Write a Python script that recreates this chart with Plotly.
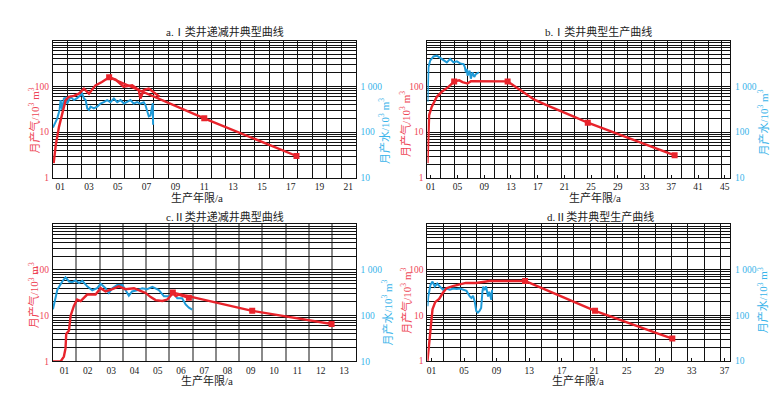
import plotly.graph_objects as go

# ---------------- data ----------------
# panel a
a_gas_x = [0.05, 0.2, 0.42, 0.64, 0.88, 1.1, 1.45, 1.8, 2.15, 2.5, 2.95, 3.4, 3.9, 4.35, 4.9, 5.5, 5.95, 6.07, 6.3, 6.65, 7.1, 7.4]
a_gas_y = [2.1, 5.3, 13, 26, 50, 59, 62, 69, 89, 69, 105, 124, 158, 140, 98, 105, 83, 54, 83, 89, 69, 59]
a_fit_x = [3.9, 10.5, 16.9]
a_fit_y = [158, 20, 3]
a_wat_x = [0, 0.3, 0.46, 0.53, 0.64, 0.76, 0.88, 0.99, 1.22, 1.46, 1.7, 1.92, 2.03, 2.15, 2.27, 2.38, 2.5, 2.61, 2.84, 3.07,
           3.3, 3.53, 3.76, 3.99, 4.23, 4.46, 4.69, 4.92, 5.15, 5.38, 5.6, 5.84, 6.07, 6.3, 6.42, 6.65, 6.77, 6.88, 6.93, 6.95]
a_wat_y = [125, 200, 305, 500, 305, 540, 560, 420, 590, 500, 560, 640, 690, 540, 500, 330, 305, 360, 330, 360,
           420, 450, 500, 450, 540, 450, 500, 420, 450, 500, 420, 450, 420, 450, 390, 220, 230, 360, 430, 145]
a_xlabels = ["01", "03", "05", "07", "09", "11", "13", "15", "17", "19", "21"]

# panel b
b_gas_x = [0, 0.1, 0.25, 0.65, 1.4, 2.15, 3.15, 4.0, 4.75, 5.25, 6.0, 6.5, 8, 10, 12, 13, 14, 15, 16, 18, 20, 22, 24, 26, 28, 30, 32, 34, 37]
b_gas_y = [2.1, 9, 23.6, 36, 59, 76, 97, 128, 135, 124, 115, 129, 129, 129, 128, 102, 81, 64, 51, 38, 29, 21.5, 16, 12.4, 9.6, 7.5, 5.8, 4.5, 3.1]
b_mk_x = [4.0, 12, 24, 37]
b_mk_y = [128, 128, 16, 3.1]
b_wat_x = [0, 0.05, 0.15, 0.4, 0.9, 1.4, 1.9, 2.4, 2.9, 3.4, 3.9, 4.4, 4.9, 5.4, 5.6, 5.75, 5.9, 6.0, 6.3, 6.5, 6.75, 7.0, 7.25, 7.7]
b_wat_y = [460, 1500, 2600, 3640, 4500, 4680, 4170, 3640, 3340, 3990, 3340, 3520, 3170, 3050, 2620, 2030, 2400, 1720, 2200, 1470, 2030, 1600, 1850, 2030]
b_xlabels = ["01", "05", "09", "13", "17", "21", "25", "29", "33", "37", "41", "45"]

# panel c
c_gas_x = [0, 0.33, 0.47, 0.54, 0.57, 0.69, 0.76, 0.9, 1.04, 1.19, 1.47, 1.83, 2.05, 2.26, 2.55, 2.83, 3.12, 3.48, 3.76,
           3.98, 4.2, 4.41, 4.7, 4.91, 5.05, 5.15, 5.27, 5.41, 5.6, 5.84]
c_gas_y = [1, 1, 1.28, 1.93, 4.0, 4.76, 10, 16.4, 22.6, 21, 29, 29, 40, 34, 38, 44, 38, 40, 35,
           31.5, 25.5, 22, 21, 22.6, 27, 32, 27, 29, 27, 24.6]
c_fit_x = [5.15, 8.56, 11.97]
c_fit_y = [32, 12.8, 6.6]
c_mk_x = [5.15, 5.84, 8.56, 11.97]
c_mk_y = [32, 24.6, 12.8, 6.6]
c_wat_x = [0, 0.11, 0.19, 0.4, 0.54, 0.69, 0.83, 0.97, 1.12, 1.26, 1.47, 1.69, 1.9, 2.05, 2.26, 2.4, 2.55, 2.76, 2.98, 3.12,
           3.26, 3.4, 3.62, 3.84, 4.05, 4.27, 4.55, 4.77, 4.98, 5.2, 5.34, 5.55, 5.7, 5.84, 5.98]
c_wat_y = [139, 227, 370, 560, 690, 560, 540, 590, 520, 580, 440, 360, 400, 500, 400, 315, 400, 470, 470, 360,
           275, 340, 360, 400, 380, 430, 365, 265, 265, 310, 240, 240, 177, 150, 136]
c_xlabels = ["01", "02", "03", "04", "05", "06", "07", "08", "09", "10", "11", "12", "13"]

# panel d
d_gas_x = [0, 0.2, 0.42, 0.62, 0.95, 1.44, 1.9, 2.34, 3.12, 3.74, 4.4, 4.72, 6.0, 7.05, 7.6, 9, 10.5, 12, 14, 16, 18, 20.6, 23, 25.5, 28, 30.1]
d_gas_y = [1, 2.6, 7.2, 13.6, 19.5, 23, 31.4, 39.5, 43.7, 47, 51, 51.5, 51.5, 55, 57, 57, 57, 57, 40, 28, 20, 12.6, 8.8, 6.0, 4.2, 3.1]
d_mk_x = [12, 20.6, 30.1]
d_mk_y = [57, 12.6, 3.1]
d_wat_x = [0, 0.1, 0.37, 0.62, 0.9, 1.2, 1.52, 1.93, 2.3, 2.75, 3.16, 3.6, 4.0, 4.4, 4.8, 5.2, 5.4, 5.6, 5.8, 6.0, 6.2, 6.4,
           6.6, 6.76, 6.85, 7.0, 7.2, 7.45, 7.6, 7.85, 7.95]
d_wat_y = [159, 260, 467, 550, 430, 500, 430, 365, 390, 365, 390, 380, 390, 365, 345, 260, 240, 270, 205, 125, 115, 125,
           145, 335, 430, 360, 430, 260, 330, 220, 365]
d_xlabels = ["01", "05", "09", "13", "17", "21", "25", "29", "33", "37"]

gas_ticks = [1, 10, 100]
gas_ticktext = ["1", "10", "100"]
wat_ticks = [10, 100, 1000]
wat_ticktext = ["10", "100", "1 000"]

titles = ["a.Ⅰ类井递减井典型曲线", "b.Ⅰ类井典型生产曲线", "c.Ⅱ类井递减井典型曲线", "d.Ⅱ类井典型生产曲线"]
xtitle = "生产年限/a"
gas_title = "月产气/10<sup>3</sup> m<sup>3</sup>"
wat_title = "月产水/10<sup>3</sup> m<sup>3</sup>"

# ---------------- style ----------------
W, H = 782, 396
RED = "#e8232b"
BLUE = "#1e9ad8"
RED_T = "#ee4656"
BLUE_T = "#3ab4ea"
SERIF = "Liberation Serif, Noto Sans CJK SC"

def px(x):
    return x / W

def py(y):
    return 1 - y / H

# panel boxes in pixels: (left, right, top, bottom)
boxes = [(44, 347, 33, 172), (419, 722, 33, 172), (44, 347, 219, 358), (419, 722, 219, 357.5)]
xranges = [[0, 21], [0, 45.3], [0, 13], [0, 37.2]]
xgrid_dtick = [1, 2, 1, 2]
xgrid_color = ["#111111", "#111111", "#8a8a8a", "#111111"]
xgrid_width = [1.2, 1.2, 2.4, 1.2]
xlabels_all = [a_xlabels, b_xlabels, c_xlabels, d_xlabels]
inside_ticks = [False, True, False, True]

minor_vals = [m * 10 ** k for k in range(3) for m in range(2, 10)]

fig = go.Figure()
layout = dict(
    width=W, height=H, autosize=False,
    margin=dict(l=0, r=0, t=0, b=0),
    paper_bgcolor="white", plot_bgcolor="white",
    showlegend=False,
    font=dict(family=SERIF, size=9, color="#222"),
)

for i in range(4):
    L, R, T, B = boxes[i]
    xa = "xaxis" if i == 0 else f"xaxis{i+1}"
    xr = "x" if i == 0 else f"x{i+1}"
    wn = 2 * i + 1  # water axis (base, right)
    gn = 2 * i + 2  # gas axis (overlay, left)
    wa = "yaxis" if wn == 1 else f"yaxis{wn}"
    wr = "y" if wn == 1 else f"y{wn}"
    ga = f"yaxis{gn}"
    labs = xlabels_all[i]
    layout[xa] = dict(
        domain=[px(L), px(R)], anchor=wr, range=xranges[i],
        tickmode="array", tickvals=[int(s) - 0.5 for s in labs], ticktext=labs, tickangle=0,
        ticks="inside" if inside_ticks[i] else "", ticklen=3, tickcolor="#111",
        showgrid=False, zeroline=False,
        showline=True, mirror=True, linecolor="#111", linewidth=1.3,
        tickfont=dict(family=SERIF, size=9.5, color="#222"),
        minor=dict(tickmode="linear", tick0=0, dtick=xgrid_dtick[i], showgrid=True,
                   gridcolor=xgrid_color[i], gridwidth=xgrid_width[i], ticks=""),
    )
    layout[wa] = dict(
        domain=[py(B), py(T)], anchor=xr, type="log", range=[1, 4], side="right",
        tickmode="array", tickvals=wat_ticks, ticktext=wat_ticktext, tickangle=0,
        showgrid=False, zeroline=False, ticks="", showline=False,
        ticklabelstandoff=4,
        tickfont=dict(family=SERIF, size=9.5, color=BLUE_T),
    )
    layout[ga] = dict(
        domain=[py(B), py(T)], anchor=xr, overlaying=wr, type="log", range=[0, 3], side="left",
        tickmode="array", tickvals=gas_ticks, ticktext=gas_ticktext, tickangle=0,
        showgrid=True, gridcolor="#111", gridwidth=1,
        zeroline=False, ticks="",
        showline=True, mirror=True, linecolor="#111", linewidth=1.3,
        tickfont=dict(family=SERIF, size=9.5, color=RED_T),
        ticklabelstandoff=1,
        minor=dict(tickmode="array", tickvals=minor_vals, showgrid=True, gridcolor="#111", gridwidth=1, ticks=""),
    )

fig.update_layout(**layout)

def add_panel(i, gas_x, gas_y, wat_x, wat_y, fit_x=None, fit_y=None, mk_x=None, mk_y=None):
    xr = "x" if i == 0 else f"x{i+1}"
    wr = "y" if i == 0 else f"y{2*i+1}"
    gr = f"y{2*i+2}"
    fig.add_trace(go.Scatter(x=wat_x, y=wat_y, mode="lines", line=dict(color=BLUE, width=2),
                             xaxis=xr, yaxis=wr, hoverinfo="skip"))
    fig.add_trace(go.Scatter(x=gas_x, y=gas_y, mode="lines", line=dict(color=RED, width=2.4),
                             xaxis=xr, yaxis=gr, hoverinfo="skip"))
    if fit_x is not None:
        fig.add_trace(go.Scatter(x=fit_x, y=fit_y, mode="lines", line=dict(color=RED, width=2.4),
                                 xaxis=xr, yaxis=gr, hoverinfo="skip"))
    if mk_x is not None:
        fig.add_trace(go.Scatter(x=mk_x, y=mk_y, mode="markers",
                                 marker=dict(color=RED, symbol="square", size=6),
                                 xaxis=xr, yaxis=gr, hoverinfo="skip"))

add_panel(0, a_gas_x, a_gas_y, a_wat_x, a_wat_y, a_fit_x, a_fit_y, a_fit_x, a_fit_y)
add_panel(1, b_gas_x, b_gas_y, b_wat_x, b_wat_y, None, None, b_mk_x, b_mk_y)
add_panel(2, c_gas_x, c_gas_y, c_wat_x, c_wat_y, c_fit_x, c_fit_y, c_mk_x, c_mk_y)
add_panel(3, d_gas_x, d_gas_y, d_wat_x, d_wat_y, None, None, d_mk_x, d_mk_y)

# text positions (pixels)
title_pos = [(216, 24), (590, 24), (216, 211), (592, 211)]
xtitle_pos = [(188, 192), (587, 192), (198, 377), (570, 377)]
gas_title_pos = [(25, 114), (396, 117), (25, 291), (398, 296)]
wat_title_pos = [(376, 125), (755, 116), (379, 309), (755, 296)]

anns = []
def ann(text, pos, color, angle=0):
    x, y = pos
    return dict(text=text, x=px(x), y=py(y), xref="paper", yref="paper", showarrow=False,
                xanchor="center", yanchor="middle", textangle=angle,
                font=dict(family=SERIF, size=11, color=color))

for i in range(4):
    anns.append(ann(titles[i], title_pos[i], "#222"))
    anns.append(ann(xtitle, xtitle_pos[i], "#222"))
    anns.append(ann(gas_title, gas_title_pos[i], RED_T, -90))
    anns.append(ann(wat_title, wat_title_pos[i], BLUE_T, -90))
fig.update_layout(annotations=anns)

fig.write_html("out.html")
